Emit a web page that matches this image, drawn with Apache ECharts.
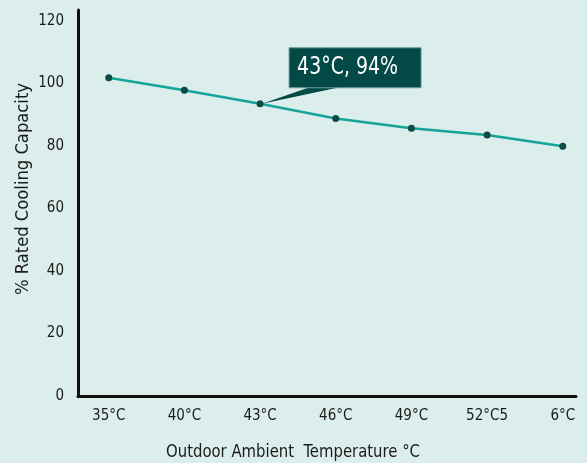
<!DOCTYPE html>
<html>
<head>
<meta charset="utf-8">
<script src="https://cdn.jsdelivr.net/npm/echarts@6/dist/echarts.min.js"></script>
<style>
html,body{margin:0;padding:0;background:#dbeeeb;}
#c{width:587px;height:463px;}
</style>
</head>
<body>
<div id="c"></div>
<script>
const categories = ['35°C', '40°C', '43°C', '46°C', '49°C', '52°C5', '6°C'];
const capacity = [101.8, 97.8, 93.5, 88.8, 85.7, 83.5, 79.9];
const yTicks = [0, 20, 40, 60, 80, 100, 120];
const calloutIndex = 2;
const calloutText = '43°C, 94%';
const xTitle = 'Outdoor Ambient  Temperature °C';
const yTitle = '% Rated Cooling Capacity';

const FAMILY = '"DejaVu Sans", Roboto, sans-serif';
const chart = echarts.init(document.getElementById('c'));
const points = capacity.map((v, i) => [i, v]);

const mctx = document.createElement('canvas').getContext('2d');
function fitScale(text, font, targetWidth) {
  mctx.font = font;
  return targetWidth / mctx.measureText(text).width;
}

chart.setOption({
  backgroundColor: '#dbeeeb',
  animation: false,
  grid: {left: 78, right: 11, top: 10, bottom: 67},
  xAxis: {
    type: 'value', min: -0.406, max: 6.175,
    axisLine: {show: true, onZero: false, lineStyle: {color: '#111', width: 3}},
    axisTick: {show: false},
    splitLine: {show: false},
    axisLabel: {
      customValues: categories.map((c, i) => i),
      formatter: v => categories[Math.round(v)],
      color: '#1a1a1a', fontFamily: FAMILY, fontWeight: 'condensed', fontSize: 15, margin: 13
    }
  },
  yAxis: {
    type: 'value', min: 0, max: 123.5,
    axisLine: {show: true, onZero: false, lineStyle: {color: '#111', width: 3}},
    axisTick: {show: false},
    splitLine: {show: false},
    axisLabel: {
      customValues: yTicks,
      color: '#1a1a1a', fontFamily: FAMILY, fontWeight: 'condensed', fontSize: 15, margin: 14,
      padding: [0, 0, 8, 0]
    }
  },
  series: [{
    type: 'line',
    data: points,
    lineStyle: {color: '#16a398', width: 2.5},
    symbol: 'circle', symbolSize: 7,
    itemStyle: {color: '#0b4a45'},
    z: 3
  }]
});

const p = chart.convertToPixel({gridIndex: 0}, points[calloutIndex]);
const bx = p[0] + 29, by = p[1] - 56, bw = 132, bh = 40;
const calloutFont = 'condensed 24px "DejaVu Sans"';
const xFont = 'condensed 18px "DejaVu Sans"';
const yFont = 'condensed 17px "DejaVu Sans"';
chart.setOption({
  graphic: [
    {type: 'polygon', z: 10, shape: {points: [[p[0] + 2, p[1]], [bx + 22, by + bh - 1], [bx + 53, by + bh - 1]]}, style: {fill: '#034a47'}},
    {type: 'rect', z: 10, shape: {x: bx, y: by, width: bw, height: bh}, style: {fill: '#034a47', stroke: '#6f9c98', lineWidth: 1}},
    {type: 'text', z: 11, x: bx + 8, y: by + bh / 2, scaleX: fitScale(calloutText, calloutFont, 101),
      style: {text: calloutText, fill: '#ffffff', font: calloutFont, verticalAlign: 'middle'}},
    {type: 'text', z: 11, x: 293, y: 452, scaleX: fitScale(xTitle, xFont, 254),
      style: {text: xTitle, fill: '#1a1a1a', font: xFont, align: 'center', verticalAlign: 'middle'}},
    {type: 'text', z: 11, x: 24, y: 189, rotation: Math.PI / 2, scaleX: fitScale(yTitle, yFont, 212),
      style: {text: yTitle, fill: '#1a1a1a', font: yFont, align: 'center', verticalAlign: 'middle'}}
  ]
});
</script>
</body>
</html>
